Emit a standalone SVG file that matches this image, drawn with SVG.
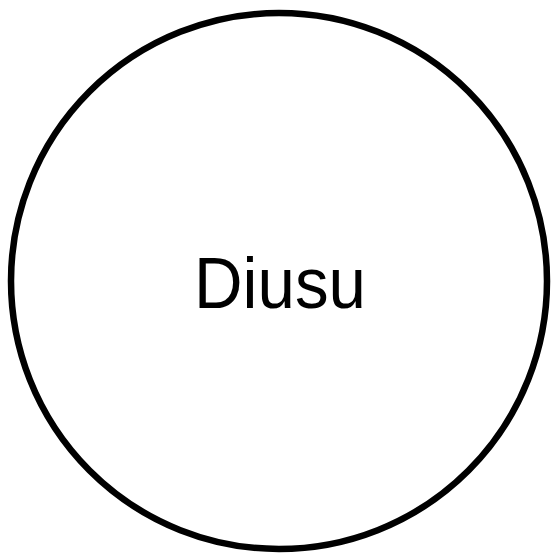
<svg xmlns="http://www.w3.org/2000/svg" width="552" height="558" viewBox="0 0 552 558">
<style>
.node-shape{fill:#fff;stroke:#000;stroke-width:6.5}
.label{font-family:"Liberation Sans",Arial,sans-serif;font-size:72px;fill:#000}
</style>
<rect width="552" height="558" fill="#fff"/>
<g id="connectors"></g>
<g id="node-diusu">
<circle class="node-shape" cx="279" cy="281" r="268"/>
<text class="label" x="280" y="308" text-anchor="middle" textLength="172" lengthAdjust="spacingAndGlyphs">Diusu</text>
</g>
</svg>
